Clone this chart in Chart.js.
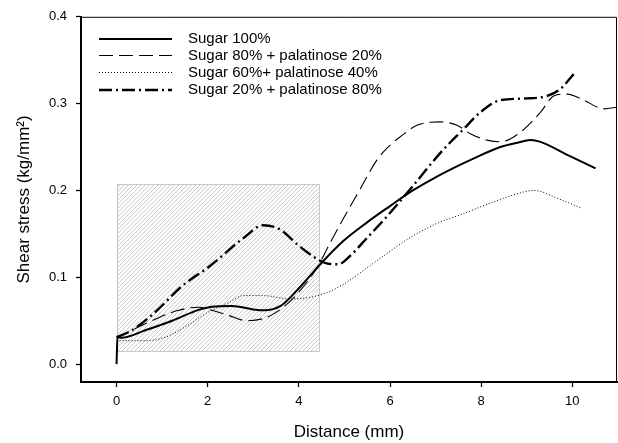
<!DOCTYPE html>
<html>
<head>
<meta charset="utf-8">
<script src="https://cdn.jsdelivr.net/npm/chart.js@4.4.1/dist/chart.umd.min.js"></script>
<style>
  html, body { margin: 0; padding: 0; background: #ffffff; }
  #wrap { width: 618px; height: 443px; position: relative; }
</style>
</head>
<body>
<div id="wrap"><canvas id="c" width="618" height="443"></canvas></div>
<script>
// ---- data ----
const seriesNames = [
  'Sugar 100%',
  'Sugar 80% + palatinose 20%',
  'Sugar 60%+ palatinose 40%',
  'Sugar 20% + palatinose 80%'
];

const distS100 = [0, 0.02, 0.12, 0.63, 1.22, 1.8, 2.09, 2.53, 3.0, 3.25, 3.6, 3.96, 4.2, 4.47, 4.98, 5.49, 6.0, 6.5, 6.96, 7.4, 7.84, 8.42, 8.8, 9.08, 9.3, 9.89, 10.51];
const stressS100 = [0, 0.031, 0.0305, 0.039, 0.050, 0.0625, 0.066, 0.067, 0.063, 0.062, 0.067, 0.085, 0.099, 0.115, 0.142, 0.163, 0.182, 0.200, 0.214, 0.226, 0.237, 0.250, 0.255, 0.258, 0.256, 0.241, 0.2255];

const distS80 = [0, 0.15, 0.63, 1.36, 1.8, 2.09, 2.46, 2.86, 3.3, 3.74, 4.0, 4.4, 4.69, 4.98, 5.35, 5.71, 6.0, 6.23, 6.59, 7.1, 7.47, 7.77, 8.13, 8.42, 8.86, 9.3, 9.6, 9.89, 10.25, 10.69, 11.0];
const stressS80 = [0.03, 0.034, 0.0465, 0.062, 0.0655, 0.062, 0.056, 0.050, 0.054, 0.069, 0.083, 0.111, 0.140, 0.168, 0.202, 0.235, 0.252, 0.262, 0.275, 0.279, 0.275, 0.265, 0.258, 0.256, 0.267, 0.290, 0.309, 0.311, 0.304, 0.294, 0.296];

const distS60 = [0, 0.63, 1.07, 1.51, 1.95, 2.46, 2.8, 3.2, 3.81, 4.25, 4.6, 4.98, 5.71, 6.45, 7.07, 7.55, 8.13, 8.72, 9.16, 9.67, 10.18];
const stressS60 = [0.027, 0.027, 0.031, 0.043, 0.058, 0.071, 0.079, 0.079, 0.075, 0.077, 0.082, 0.092, 0.119, 0.146, 0.163, 0.172, 0.184, 0.195, 0.200, 0.191, 0.180];

const distS20 = [0, 0.34, 0.85, 1.44, 2.05, 2.78, 3.22, 3.59, 3.96, 4.4, 4.61, 4.87, 5.05, 5.49, 5.93, 6.5, 7.1, 7.62, 7.98, 8.42, 9.01, 9.45, 9.74, 10.03];
const stressS20 = [0.031, 0.039, 0.06, 0.09, 0.113, 0.145, 0.160, 0.155, 0.138, 0.121, 0.116, 0.115, 0.121, 0.145, 0.170, 0.205, 0.243, 0.271, 0.29, 0.304, 0.306, 0.309, 0.317, 0.334];

// shaded region (data coordinates)
const regionX = [0, 4.44];
const regionY = [0.015, 0.207];

// axis ranges and ticks
const xRange = [-0.78, 10.98];
const yRange = [-0.0206, 0.4];
const xTicks = [0, 2, 4, 6, 8, 10];
const yTicks = [0.0, 0.1, 0.2, 0.3, 0.4];

// ---- build ----
const FONT = '"Liberation Sans", Arial, "DejaVu Sans", sans-serif';
function pts(xs, ys) { return xs.map((x, i) => ({ x: x, y: ys[i] })); }

const styles = [
  { borderWidth: 2, borderDash: [] },
  { borderWidth: 1.1, borderDash: [14, 6] },
  { borderWidth: 1, borderDash: [1, 2] },
  { borderWidth: 2.4, borderDash: [13, 4, 2, 4] }
];
const dataSets = [
  pts(distS100, stressS100),
  pts(distS80, stressS80),
  pts(distS60, stressS60),
  pts(distS20, stressS20)
];

const datasets = dataSets.map((d, i) => ({
  label: seriesNames[i],
  data: d,
  borderColor: '#000000',
  backgroundColor: '#000000',
  borderWidth: styles[i].borderWidth,
  borderDash: styles[i].borderDash,
  pointRadius: 0,
  pointHoverRadius: 0,
  fill: false,
  cubicInterpolationMode: 'monotone',
  borderCapStyle: 'butt',
  borderJoinStyle: 'round'
}));

const regionPlugin = {
  id: 'region',
  beforeDatasetsDraw(chart) {
    const { ctx, scales: { x, y } } = chart;
    const x0 = x.getPixelForValue(regionX[0]);
    const x1 = x.getPixelForValue(regionX[1]);
    const y0 = y.getPixelForValue(regionY[1]);
    const y1 = y.getPixelForValue(regionY[0]);
    ctx.save();
    ctx.beginPath();
    ctx.rect(x0, y0, x1 - x0, y1 - y0);
    ctx.clip();
    ctx.strokeStyle = '#c4c4c4';
    ctx.lineWidth = 1;
    const h = y1 - y0;
    ctx.beginPath();
    for (let k = -h; k < (x1 - x0) + h; k += 4.2) {
      ctx.moveTo(x0 + k, y1);
      ctx.lineTo(x0 + k + h, y0);
    }
    ctx.stroke();
    ctx.restore();
    ctx.save();
    ctx.strokeStyle = '#c8c8c8';
    ctx.lineWidth = 1;
    ctx.strokeRect(Math.round(x0) + 0.5, Math.round(y0) + 0.5, Math.round(x1 - x0), Math.round(y1 - y0));
    ctx.restore();
  }
};

const framePlugin = {
  id: 'frame',
  afterDraw(chart) {
    const { ctx, chartArea: a } = chart;
    ctx.save();
    ctx.strokeStyle = '#000000';
    ctx.lineWidth = 1;
    ctx.beginPath();
    ctx.moveTo(a.left, a.top + 0.5);
    ctx.lineTo(a.right - 0.5, a.top + 0.5);
    ctx.lineTo(a.right - 0.5, a.bottom);
    ctx.stroke();
    ctx.restore();
  }
};

const legendPlugin = {
  id: 'innerLegend',
  afterDatasetsDraw(chart) {
    const { ctx } = chart;
    const rows = [39, 55.5, 72.5, 90];
    ctx.save();
    chart.data.datasets.forEach((ds, i) => {
      const yy = rows[i];
      ctx.beginPath();
      ctx.setLineDash(ds.borderDash || []);
      ctx.lineWidth = ds.borderWidth;
      ctx.strokeStyle = ds.borderColor;
      ctx.lineCap = 'butt';
      ctx.moveTo(99, yy);
      ctx.lineTo(172, yy);
      ctx.stroke();
      ctx.setLineDash([]);
      ctx.fillStyle = '#000000';
      ctx.font = '15px ' + FONT;
      ctx.textBaseline = 'middle';
      ctx.textAlign = 'left';
      ctx.fillText(ds.label, 188, yy);
    });
    ctx.restore();
  }
};

new Chart(document.getElementById('c'), {
  type: 'line',
  data: { datasets: datasets },
  plugins: [regionPlugin, framePlugin, legendPlugin],
  options: {
    responsive: false,
    animation: false,
    events: [],
    layout: { padding: { top: 14, right: 1, left: 0, bottom: 0 } },
    plugins: { legend: { display: false }, tooltip: { enabled: false } },
    scales: {
      x: {
        type: 'linear',
        min: xRange[0],
        max: xRange[1],
        afterFit(scale) { scale.height = 61; },
        afterBuildTicks(scale) { scale.ticks = xTicks.map(v => ({ value: v })); },
        ticks: {
          color: '#000000',
          font: { family: FONT, size: 13 },
          padding: 7,
          maxRotation: 0,
          callback: v => String(v)
        },
        grid: { display: true, drawOnChartArea: false, drawTicks: true, tickLength: 5, color: '#000000', tickWidth: 1.3 },
        border: { display: true, color: '#000000', width: 2 },
        title: {
          display: true,
          text: 'Distance (mm)',
          color: '#000000',
          font: { family: FONT, size: 17 },
          padding: { top: 0, bottom: 0 }
        }
      },
      y: {
        type: 'linear',
        min: yRange[0],
        max: yRange[1],
        afterFit(scale) { scale.width = 81; },
        afterBuildTicks(scale) { scale.ticks = yTicks.map(v => ({ value: v })); },
        ticks: {
          color: '#000000',
          font: { family: FONT, size: 13 },
          padding: 9,
          callback: v => Number(v).toFixed(1)
        },
        grid: { display: true, drawOnChartArea: false, drawTicks: true, tickLength: 5, color: '#000000', tickWidth: 1.3 },
        border: { display: true, color: '#000000', width: 2 },
        title: {
          display: true,
          text: 'Shear stress (kg/mm²)',
          color: '#000000',
          font: { family: FONT, size: 17 },
          padding: { top: 14, bottom: 0 }
        }
      }
    }
  }
});
</script>
</body>
</html>
